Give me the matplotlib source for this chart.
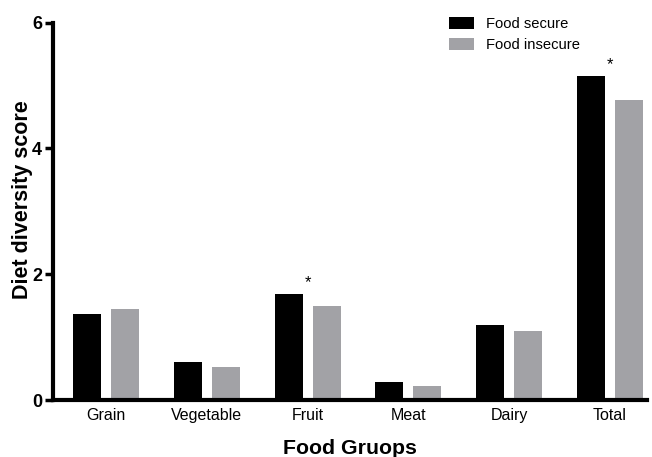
import matplotlib
matplotlib.use("Agg")
import matplotlib.pyplot as plt
import numpy as np

plt.rcParams['font.family'] = ['Liberation Sans', 'DejaVu Sans']

# data
groups = ['Grain', 'Vegetable', 'Fruit', 'Meat', 'Dairy', 'Total']
secure = [1.37, 0.61, 1.69, 0.28, 1.20, 5.15]
insecure = [1.45, 0.52, 1.49, 0.22, 1.09, 4.77]
signif = [False, False, True, False, False, True]

fig = plt.figure(figsize=(6.52, 4.57), dpi=100)
ax = fig.add_axes([0.0813, 0.1247, 0.9107, 0.8256])

x = np.arange(len(groups))
w = 0.277
off = 0.188
ax.bar(x - off, secure, w, color='black', label='Food secure')
ax.bar(x + off, insecure, w, color='#a2a2a6', label='Food insecure')

for i in range(len(groups)):
    if signif[i]:
        ax.text(x[i], secure[i] + 0.06, '*', ha='center', va='bottom', fontsize=12)

ax.set_xlim(-0.528, 5.367)
ax.set_ylim(0, 6)
ax.set_yticks([0, 2, 4, 6])
ax.set_xticks(x)
ax.set_xticklabels(groups, fontsize=11.5)
ax.tick_params(axis='x', length=0, pad=6)
ax.tick_params(axis='y', length=6, width=2.5, labelsize=13, pad=2)
for lbl in ax.get_yticklabels():
    lbl.set_fontweight('bold')

ax.spines['top'].set_visible(False)
ax.spines['right'].set_visible(False)
ax.spines['left'].set_linewidth(3)
ax.spines['bottom'].set_linewidth(3)

ax.set_ylabel('Diet diversity score', fontsize=15.5, fontweight='bold')
ax.yaxis.set_label_coords(-0.034, 0.53)
ax.set_xlabel('Food Gruops', fontsize=15.3, fontweight='bold', labelpad=11)

ax.legend(loc='upper left', bbox_to_anchor=(0.645, 1.05), frameon=False, fontsize=10.6,
          handlelength=1.65, handleheight=0.9, labelspacing=0.45, handletextpad=0.85)

fig.savefig('out.png', dpi=100)
